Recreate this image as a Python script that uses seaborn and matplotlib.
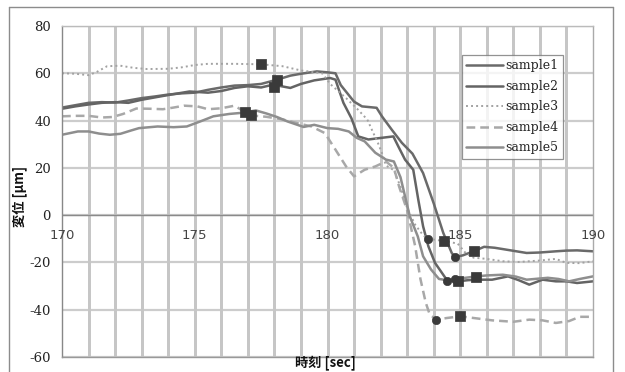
import matplotlib
matplotlib.use("Agg")
import matplotlib.pyplot as plt
from matplotlib.lines import Line2D
from matplotlib.ticker import MultipleLocator
import seaborn as sns

# time [sec] / displacement [um]
s1_t = [170.0, 170.5, 171.0, 171.5, 172.0, 172.5, 173.0, 173.5, 174.0, 174.5, 175.0, 175.5,
        176.0, 176.5, 177.0, 177.5, 178.1, 178.6, 179.0, 179.6, 180.0, 180.3, 180.5, 181.0,
        181.3, 181.85, 182.05, 182.43, 182.8, 183.2, 183.6, 184.0, 184.36, 184.68, 184.8,
        185.1, 185.5, 185.9, 186.3, 186.9, 187.5, 188.0, 188.6, 189.0, 189.4, 190.0]
s1_v = [45.5, 46.5, 47.5, 47.8, 47.6, 48.5, 49.5, 50.2, 51.0, 51.5, 51.8, 53.0,
        54.0, 54.8, 55.0, 55.5, 57.3, 59.0, 59.8, 60.8, 60.4, 60.0, 55.0, 48.0,
        46.0, 45.4, 41.8, 36.0, 30.6, 26.0, 17.8, 5.0, -7.5, -16.0, -17.8,
        -17.0, -15.3, -13.4, -13.8, -14.9, -16.0, -15.8, -15.3, -15.0, -14.9, -15.3]

s2_t = [170.0, 170.5, 171.0, 171.5, 172.0, 172.5, 173.0, 173.5, 174.0, 174.8, 175.5, 176.0,
        176.5, 177.0, 177.5, 177.95, 178.6, 179.0, 179.5, 180.1, 180.3, 180.47, 180.6, 180.9,
        181.16, 181.54, 182.04, 182.48, 182.67, 182.92, 183.23, 183.42, 183.6, 183.8, 184.05,
        184.5, 184.9, 185.3, 185.7, 186.2, 186.8, 187.2, 187.6, 188.1, 188.6, 189.0, 189.4, 190.0]
s2_v = [45.0, 46.0, 46.8, 47.5, 47.8, 47.5, 48.8, 49.8, 50.8, 52.3, 51.8, 52.5,
        53.8, 54.5, 54.0, 55.2, 53.8, 55.5, 57.0, 58.0, 57.3, 51.7, 47.5, 41.0,
        33.3, 32.0, 32.7, 33.3, 29.0, 23.5, 19.2, 6.5, -4.7, -13.2, -20.2,
        -27.5, -28.0, -27.5, -27.3, -27.3, -25.9, -27.5, -29.4, -27.3, -28.0, -28.0, -28.7, -28.0]

s3_t = [170.0, 170.5, 171.0, 171.3, 171.7, 172.2, 172.7, 173.2, 174.0, 174.5, 175.0, 175.5,
        176.5, 177.5, 178.3, 179.0, 179.8, 180.1, 180.7, 181.15, 181.5, 181.7, 181.9, 182.05,
        182.2, 182.5, 182.75, 183.0, 183.3, 183.6, 183.8, 184.4, 184.9, 185.2, 185.5, 186.0,
        186.6, 187.2, 188.0, 188.6, 189.0, 189.5, 190.0]
s3_v = [60.0, 59.8, 59.2, 60.5, 63.0, 63.2, 62.3, 61.8, 61.9, 62.5, 63.5, 64.0,
        64.0, 63.8, 63.0, 61.2, 60.0, 55.5, 49.5, 44.6, 40.4, 35.4, 30.5, 26.3,
        21.0, 19.0, 12.0, 3.0, -4.0, -8.5, -10.0, -11.0, -12.0, -16.0, -18.0, -18.5,
        -19.5, -19.8, -19.2, -18.5, -20.2, -20.3, -19.5]

s4_t = [170.0, 170.5, 171.0, 171.5, 171.9, 172.3, 172.8, 173.3, 173.8, 174.2, 174.6, 175.1,
        175.5, 176.0, 176.5, 176.9, 177.3, 177.7, 178.3, 178.9, 179.4, 179.9, 180.3, 180.7,
        181.0, 181.4, 181.8, 182.2, 182.5, 182.7, 183.0, 183.3, 183.5, 183.7, 183.85, 184.1,
        184.5, 185.0, 185.5, 186.2, 187.0, 187.6, 188.1, 188.6, 189.1, 189.5, 190.0]
s4_v = [41.8, 42.0, 42.0, 41.3, 41.5, 42.8, 45.1, 45.0, 44.8, 45.5, 46.3, 46.0,
        44.8, 45.2, 46.3, 43.5, 42.0, 41.6, 40.5, 38.8, 37.5, 34.7, 27.7, 20.6,
        16.4, 19.2, 20.6, 22.7, 20.0, 12.0, 2.0, -13.0, -27.0, -37.0, -42.0, -44.2,
        -43.5, -42.8, -43.5, -44.5, -45.1, -44.2, -44.5, -45.6, -44.8, -43.0, -43.0]

s5_t = [170.0, 170.6, 171.0, 171.4, 171.8, 172.2, 172.6, 172.9, 173.6, 174.2, 174.7, 175.2,
        175.7, 176.3, 176.8, 177.3, 177.7, 178.1, 178.5, 179.1, 179.5, 180.0, 180.4, 180.8,
        181.1, 181.4, 181.8, 182.2, 182.5, 182.75, 183.1, 183.4, 183.6, 183.9, 184.2, 184.5,
        184.8, 185.2, 185.6, 186.0, 186.6, 187.1, 187.5, 188.3, 188.7, 189.1, 189.5, 190.0]
s5_v = [34.0, 35.4, 35.4, 34.5, 34.0, 34.4, 35.8, 36.8, 37.5, 37.2, 37.5, 39.6,
        41.8, 42.8, 43.3, 44.3, 43.0, 41.5, 39.6, 37.3, 38.2, 36.8, 36.5, 35.4,
        32.7, 31.2, 26.4, 23.5, 22.7, 16.0, -0.5, -9.0, -17.4, -23.0, -27.0, -27.5,
        -27.0, -26.5, -25.9, -25.5, -25.2, -26.0, -27.3, -26.5, -27.0, -28.0, -27.0, -25.9]

# event markers
sq_t = [177.5, 178.1, 178.0, 176.9, 177.1, 184.4, 185.5, 184.9, 185.6, 185.0]
sq_v = [63.8, 57.0, 54.3, 43.5, 42.2, -11.0, -15.3, -28.0, -26.0, -42.8]
ci_t = [183.8, 184.8, 184.5, 184.8, 184.1]
ci_v = [-10.0, -17.8, -28.0, -27.0, -44.2]

x_ticks = [170, 175, 180, 185, 190]
grid_t = list(range(171, 190))  # one vertical gridline per second
labels = ["sample1", "sample2", "sample3", "sample4", "sample5"]
series = [(s1_t, s1_v), (s2_t, s2_v), (s3_t, s3_v), (s4_t, s4_v), (s5_t, s5_v)]
colors = ["#6a6a6a", "#646464", "#a2a2a2", "#a8a8a8", "#8e8e8e"]
styles = ["-", "-", (0, (1, 1.6)), (0, (3.5, 2)), "-"]
widths = [1.8, 1.8, 1.4, 1.8, 1.8]

sns.set_style("white")
plt.rcParams["font.family"] = ["Noto Sans CJK JP", "DejaVu Sans"]
plt.rcParams["axes.unicode_minus"] = False

fig = plt.figure(figsize=(6.25, 3.72), dpi=100)
ax = fig.add_axes([62 / 625, 1 - 357 / 372, 531 / 625, 331 / 372])

for (t, v), lab, c, ls, lw in zip(series, labels, colors, styles, widths):
    sns.lineplot(x=t, y=v, ax=ax, color=c, linestyle=ls, linewidth=lw,
                 label=lab, sort=False, estimator=None)

sns.scatterplot(x=sq_t, y=sq_v, ax=ax, marker="s", s=42, color="#3a3a3a",
                edgecolor="#3a3a3a", zorder=5, legend=False)
sns.scatterplot(x=ci_t, y=ci_v, ax=ax, marker="o", s=36, color="#3a3a3a",
                edgecolor="#3a3a3a", zorder=5, legend=False)

ax.set_xlim(170, 190)
ax.set_ylim(-60, 80)
ax.set_xticks(x_ticks)
ax.yaxis.set_major_locator(MultipleLocator(20))
ax.set_axisbelow(True)
ax.yaxis.grid(True, color="#cccccc", linewidth=1.6)
ax.vlines(grid_t, -60, 80, colors="#c6c6c6", linewidth=1.0, zorder=0.6,
          antialiased=False)
ax.axhline(0, color="#8a8a8a", linewidth=1.0, zorder=1)

ax.tick_params(axis="x", length=0, labelbottom=False)
ax.tick_params(axis="y", length=0, pad=8, labelsize=9.5, labelcolor="#222222")
for lab in ax.get_yticklabels():
    lab.set_family("DejaVu Serif")
for side, col in [("left", "#888888"), ("bottom", "#999999"),
                  ("top", "#bbbbbb"), ("right", "#aaaaaa")]:
    ax.spines[side].set_color(col)
    ax.spines[side].set_linewidth(1.0)

# x labels sit under the zero line
for xt in x_ticks:
    ax.annotate(str(xt), xy=(xt, 0), xytext=(0, -10), textcoords="offset points",
                ha="center", va="top", fontsize=9.5, color="#444444", family="DejaVu Sans")

ax.set_xlabel("")
ax.set_ylabel("")
fig.text(20 / 625, 1 - 196 / 372, "変位 [μm]", rotation=90, ha="center", va="center",
         fontsize=9.5, fontweight="bold", color="#111111")
fig.text(325 / 625, 1 - 363 / 372, "時刻 [sec]", ha="center", va="center",
         fontsize=9.5, fontweight="bold", color="#111111")

leg = ax.legend(loc="upper left", bbox_to_anchor=(462 / 625, 1 - 55 / 372),
                bbox_transform=fig.transFigure, frameon=True, fancybox=False,
                prop={"family": "DejaVu Serif", "size": 9}, handlelength=2.9,
                handletextpad=0.25, labelspacing=0.6, borderpad=0.35, borderaxespad=0)
leg.get_frame().set_edgecolor("#777777")
leg.get_frame().set_linewidth(0.9)

# outer chart frame
fc = "#8c8c8c"
fig.add_artist(Line2D([9 / 625, 9 / 625], [0, 1 - 7 / 372], color=fc, lw=1, transform=fig.transFigure))
fig.add_artist(Line2D([9 / 625, 613 / 625], [1 - 7 / 372, 1 - 7 / 372], color=fc, lw=1, transform=fig.transFigure))
fig.add_artist(Line2D([613 / 625, 613 / 625], [0, 1 - 7 / 372], color=fc, lw=1, transform=fig.transFigure))

fig.savefig("out.png", dpi=100)
